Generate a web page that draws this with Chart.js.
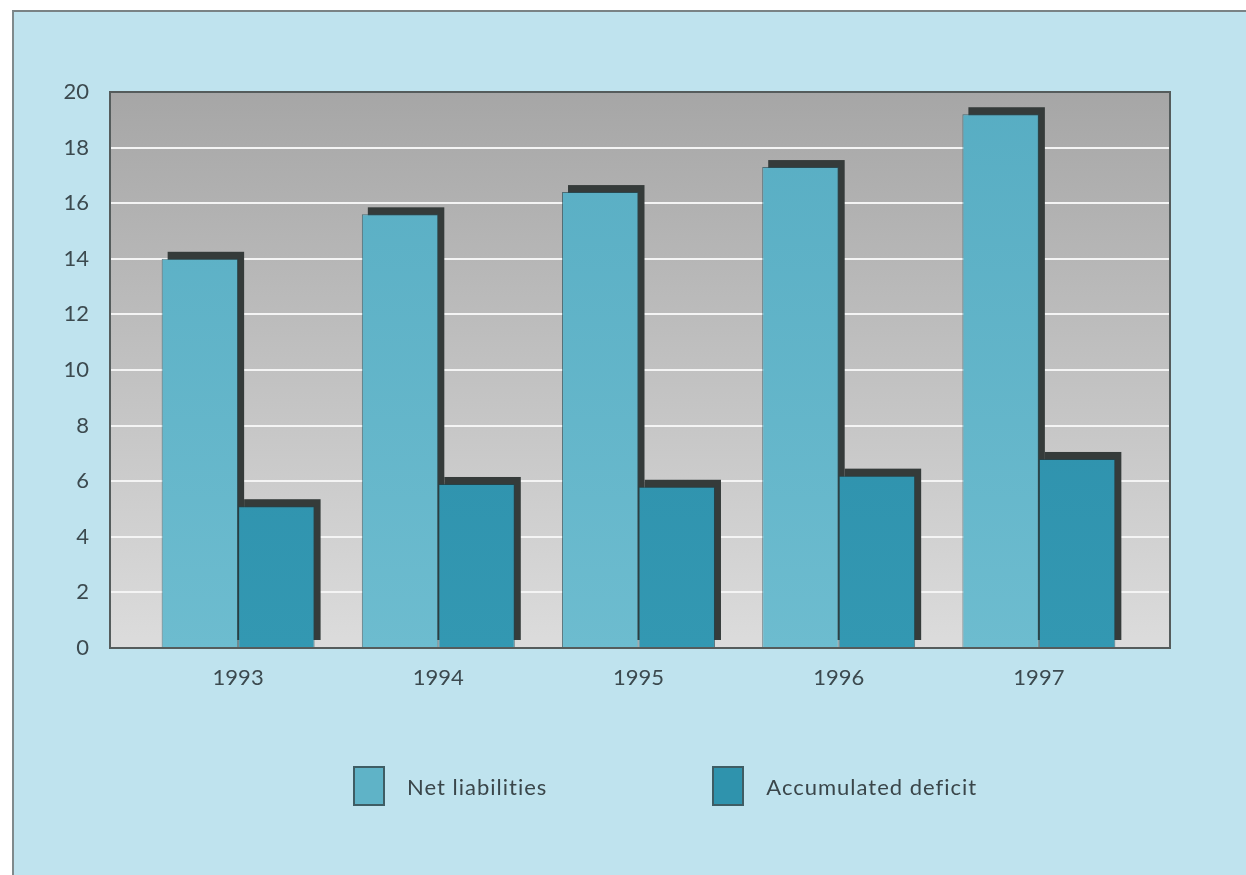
<!DOCTYPE html>
<html>
<head>
<meta charset="utf-8">
<title>Net liabilities and accumulated deficit</title>
<script src="https://cdn.jsdelivr.net/npm/chart.js@4/dist/chart.umd.min.js"></script>
<style>
  body { margin: 0; background: #fff; }
  #frame {
    position: absolute; left: 12px; top: 10px; width: 1240px; height: 870px;
    background: #bfe3ee; border-left: 2px solid #7f8a8c; border-top: 2px solid #7a8385;
  }
  #chart { position: absolute; left: 0; top: 0; }
  #legend {
    position: absolute; left: 353px; top: 766px; display: flex; align-items: center;
    font-family: Lato, "Open Sans", sans-serif; font-size: 22px; letter-spacing: 1px; color: #3a464a;
  }
  #legend .item { display: flex; align-items: center; margin-right: 165px; }
  #legend .box { width: 28px; height: 36px; border: 2px solid #3e5d64; margin-right: 22px; }
</style>
</head>
<body>
<div id="frame"></div>
<canvas id="chart" width="1246" height="875"></canvas>
<div id="legend"></div>
<script>
const years = ['1993', '1994', '1995', '1996', '1997'];
const netLiabilities = [14.0, 15.6, 16.4, 17.3, 19.2];
const accumulatedDeficit = [5.1, 5.9, 5.8, 6.2, 6.8];
const yTicks = [0, 2, 4, 6, 8, 10, 12, 14, 16, 18, 20];

const labelFont = { family: 'Lato, "Open Sans", sans-serif', size: 22 };
const labelColor = '#3c4a4f';

// vertical fill for the bars, falls back to a flat colour before layout
function barFill(top, bottom) {
    return function(ctx) {
        const area = ctx.chart.chartArea;
        if (!area) return top;
        const g = ctx.chart.ctx.createLinearGradient(0, area.top, 0, area.bottom);
        g.addColorStop(0, top);
        g.addColorStop(1, bottom);
        return g;
    };
}

// grey panel behind the grid, drop shadows on the bars, dark frame round the plot
const plotPanel = {
    id: 'plotPanel',
    beforeDraw(chart) {
        const { ctx, chartArea: a } = chart;
        const g = ctx.createLinearGradient(0, a.top, 0, a.bottom);
        g.addColorStop(0, '#a6a6a6');
        g.addColorStop(1, '#dcdcdc');
        ctx.save();
        ctx.fillStyle = g;
        ctx.fillRect(a.left, a.top, a.right - a.left, a.bottom - a.top);
        ctx.restore();
    },
    beforeDatasetsDraw(chart) {
        const ctx = chart.ctx;
        ctx.save();
        ctx.fillStyle = '#353b3a';
        chart.data.datasets.forEach((ds, i) => {
            chart.getDatasetMeta(i).data.forEach(bar => {
                const p = bar.getProps(['x', 'y', 'base', 'width'], true);
                ctx.fillRect(p.x - p.width / 2 + 6, p.y - 7, p.width, p.base - p.y);
            });
        });
        ctx.restore();
    },
    afterDatasetsDraw(chart) {
        const { ctx, chartArea: a } = chart;
        ctx.save();
        ctx.strokeStyle = '#555c5c';
        ctx.lineWidth = 2;
        ctx.strokeRect(a.left, a.top, a.right - a.left, a.bottom - a.top);
        ctx.restore();
    }
};

const chart = new Chart(document.getElementById('chart'), {
    type: 'bar',
    data: {
        datasets: [{
            label: 'Net liabilities',
            data: netLiabilities.map((v, i) => ({ x: i, y: v })),
            backgroundColor: barFill('#57adc3', '#6dbccf'),
            legendColor: '#5fb3c7',
            borderColor: 'rgba(38, 78, 88, 0.7)',
            borderWidth: 1
        }, {
            label: 'Accumulated deficit',
            data: accumulatedDeficit.map((v, i) => ({ x: i, y: v })),
            backgroundColor: barFill('#2a8ba8', '#3398b2'),
            legendColor: '#2f93ad',
            borderColor: 'rgba(30, 70, 80, 0.7)',
            borderWidth: 1
        }]
    },
    options: {
        responsive: false,
        animation: false,
        layout: { padding: { top: 92, right: 76, left: 0, bottom: 0 } },
        datasets: { bar: { categoryPercentage: 0.764, barPercentage: 1.0 } },
        plugins: { legend: { display: false }, tooltip: { enabled: false } },
        scales: {
            x: {
                type: 'linear',
                offset: false,
                min: -0.64,
                max: 4.655,
                grid: { display: false, drawTicks: false },
                border: { display: false },
                afterBuildTicks: axis => { axis.ticks = years.map((_, i) => ({ value: i })); },
                afterFit: axis => { axis.height = 227; },
                ticks: { callback: v => years[v], padding: 17, font: labelFont, color: labelColor }
            },
            y: {
                min: 0,
                max: 20,
                afterBuildTicks: axis => { axis.ticks = yTicks.map(v => ({ value: v })); },
                afterFit: axis => { axis.width = 110; },
                grid: { color: '#f4f4f4', lineWidth: 2, drawTicks: false },
                border: { display: false },
                ticks: { padding: 21, font: labelFont, color: labelColor }
            }
        }
    },
    plugins: [plotPanel]
});

// legend built from the datasets
const legend = document.getElementById('legend');
chart.data.datasets.forEach(ds => {
    const item = document.createElement('div');
    item.className = 'item';
    const box = document.createElement('span');
    box.className = 'box';
    box.style.background = ds.legendColor;
    const text = document.createElement('span');
    text.textContent = ds.label;
    item.appendChild(box);
    item.appendChild(text);
    legend.appendChild(item);
});
</script>
</body>
</html>
